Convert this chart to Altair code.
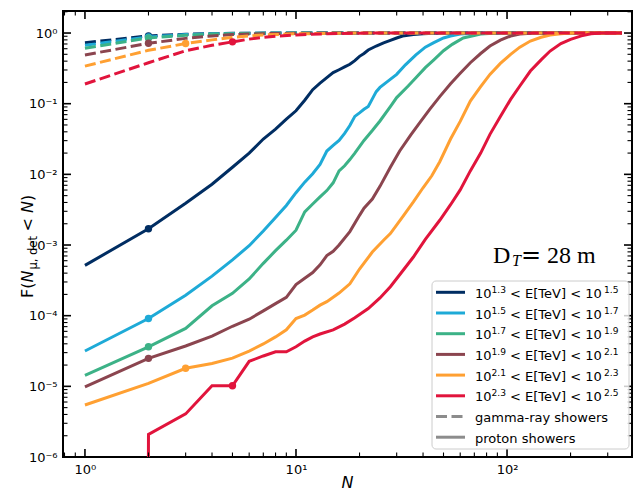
import altair as alt
import pandas as pd
import numpy as np

# ---------------- data ----------------
colors = ["#002d62", "#1eaad7", "#3cb287", "#8b454f", "#ffa032", "#e1143c"]
e_lo = ["1.3", "1.5", "1.7", "1.9", "2.1", "2.3"]
e_hi = ["1.5", "1.7", "1.9", "2.1", "2.3", "2.5"]
marker_N = [2, 2, 2, 2, 3, 5]

# proton showers (solid)
p0_N = [1, 2, 3, 4, 5, 6, 7, 8, 9, 10, 11, 12, 13, 14, 15, 16, 17, 18, 19, 20, 21, 22, 24, 26, 28, 30, 32, 36, 40, 45, 50, 60, 80, 120, 200, 350]
p0_F = [5.15e-4, 1.70e-3, 3.89e-3, 7.24e-3, 1.26e-2, 2.0e-2, 3.16e-2, 4.37e-2, 6.03e-2, 7.94e-2, 0.112, 0.158, 0.195, 0.234, 0.275, 0.302, 0.331, 0.361, 0.407, 0.468, 0.513, 0.575, 0.655, 0.724, 0.787, 0.851, 0.908, 0.955, 0.977, 0.991, 0.995, 1.0, 1.0, 1.0, 1.0, 1.0]

p1_N = [1, 2, 3, 4, 5, 6, 7, 8, 9, 10, 11, 12, 13, 14, 15, 16, 17, 18, 19, 20, 21, 22, 23, 24, 25, 27, 30, 33, 37, 41, 45, 50, 54, 60, 70, 80, 120, 200, 350]
p1_F = [3.16e-5, 9.12e-5, 1.95e-4, 3.63e-4, 6.17e-4, 9.77e-4, 1.58e-3, 2.45e-3, 3.63e-3, 5.50e-3, 7.76e-3, 1.02e-2, 1.38e-2, 2.14e-2, 2.57e-2, 3.02e-2, 3.80e-2, 4.90e-2, 6.61e-2, 7.41e-2, 8.32e-2, 9.12e-2, 0.117, 0.148, 0.170, 0.204, 0.260, 0.355, 0.490, 0.631, 0.733, 0.851, 0.908, 0.966, 0.993, 1.0, 1.0, 1.0, 1.0]

p2_N = [1, 2, 3, 4, 5, 6, 7, 8, 9, 10, 11, 12, 13, 14, 15, 16, 17, 18, 19, 21, 23, 25, 28, 30, 34, 37, 41, 45, 50, 55, 62, 75, 90, 120, 200, 350]
p2_F = [1.43e-5, 3.63e-5, 6.61e-5, 1.38e-4, 2.07e-4, 3.31e-4, 5.50e-4, 8.32e-4, 1.17e-3, 1.62e-3, 2.95e-3, 3.80e-3, 4.79e-3, 5.89e-3, 7.59e-3, 1.12e-2, 1.32e-2, 1.62e-2, 2.0e-2, 3.02e-2, 4.17e-2, 5.69e-2, 9.12e-2, 0.122, 0.178, 0.233, 0.324, 0.417, 0.562, 0.692, 0.851, 0.968, 1.0, 1.0, 1.0, 1.0]

p3_N = [1, 2, 3, 4, 5, 6, 7, 8, 9, 10, 11, 12, 13, 14, 15, 16, 18, 20, 21, 23, 25, 28, 31, 35, 39, 43, 48, 54, 60, 67, 75, 83, 93, 104, 115, 130, 150, 200, 350]
p3_F = [9.79e-6, 2.49e-5, 3.72e-5, 5.13e-5, 7.08e-5, 8.91e-5, 1.17e-4, 1.48e-4, 1.82e-4, 2.75e-4, 3.39e-4, 4.07e-4, 5.25e-4, 7.08e-4, 8.13e-4, 1.0e-3, 1.55e-3, 2.63e-3, 3.31e-3, 4.47e-3, 6.76e-3, 1.26e-2, 2.14e-2, 3.63e-2, 5.62e-2, 8.32e-2, 0.126, 0.191, 0.269, 0.380, 0.513, 0.655, 0.794, 0.908, 0.966, 0.993, 1.0, 1.0, 1.0]

p4_N = [1, 2, 3, 4, 5, 6, 7, 8, 9, 10, 11, 12, 13, 14, 15, 16, 18, 20, 23, 26, 28, 32, 36, 40, 44, 48, 54, 60, 67, 75, 83, 93, 104, 115, 129, 145, 160, 180, 200, 250, 350]
p4_F = [5.44e-6, 1.10e-5, 1.80e-5, 2.11e-5, 2.51e-5, 3.16e-5, 3.98e-5, 5.01e-5, 6.31e-5, 9.12e-5, 1.02e-4, 1.20e-4, 1.41e-4, 1.58e-4, 1.82e-4, 2.09e-4, 2.82e-4, 4.57e-4, 7.94e-4, 1.17e-3, 1.45e-3, 2.51e-3, 4.07e-3, 6.46e-3, 9.55e-3, 1.51e-2, 3.16e-2, 5.62e-2, 0.109, 0.174, 0.260, 0.372, 0.499, 0.631, 0.771, 0.871, 0.938, 0.977, 1.0, 1.0, 1.0]

p5_N = [1, 2, 3, 4, 5, 6, 7, 8, 9, 10, 11, 12, 13, 15, 17, 19, 22, 25, 28, 31, 36, 41, 48, 54, 60, 67, 75, 83, 93, 104, 115, 129, 145, 160, 180, 200, 225, 250, 280, 350]
p5_F = [0.0, 2.09e-6, 4.07e-6, 1.02e-5, 1.02e-5, 2.26e-5, 2.69e-5, 3.09e-5, 3.09e-5, 3.63e-5, 4.37e-5, 5.01e-5, 5.50e-5, 6.31e-5, 7.59e-5, 9.33e-5, 1.26e-4, 1.78e-4, 2.57e-4, 3.80e-4, 6.76e-4, 1.20e-3, 2.24e-3, 3.72e-3, 6.03e-3, 1.12e-2, 2.0e-2, 3.68e-2, 6.61e-2, 0.115, 0.178, 0.290, 0.417, 0.556, 0.708, 0.813, 0.912, 0.977, 1.0, 1.0]

# gamma-ray showers (dashed)
g0_N = [1, 2, 3, 4, 5, 6, 8, 10, 15, 350]
g0_F = [0.73, 0.91, 0.96, 0.98, 0.99, 0.995, 0.998, 1.0, 1.0, 1.0]
g1_N = [1, 2, 3, 4, 5, 7, 10, 15, 350]
g1_F = [0.67, 0.88, 0.95, 0.975, 0.985, 0.995, 1.0, 1.0, 1.0]
g2_N = [1, 2, 3, 4, 5, 7, 10, 15, 350]
g2_F = [0.61, 0.85, 0.93, 0.965, 0.98, 0.99, 0.998, 1.0, 1.0]
g3_N = [1, 2, 3, 4, 5, 7, 10, 14, 20, 350]
g3_F = [0.49, 0.715, 0.84, 0.91, 0.95, 0.98, 0.993, 0.998, 1.0, 1.0]
g4_N = [1, 2, 3, 4, 5, 6, 7, 10, 15, 20, 350]
g4_F = [0.34, 0.57, 0.71, 0.80, 0.87, 0.91, 0.94, 0.975, 0.99, 1.0, 1.0]
g5_N = [1, 2, 3, 4, 5, 6, 7, 8, 10, 13, 16, 20, 25, 350]
g5_F = [0.19, 0.38, 0.56, 0.67, 0.75, 0.82, 0.87, 0.90, 0.94, 0.97, 0.985, 0.995, 1.0, 1.0]

p_N = [p0_N, p1_N, p2_N, p3_N, p4_N, p5_N]
p_F = [p0_F, p1_F, p2_F, p3_F, p4_F, p5_F]
g_N = [g0_N, g1_N, g2_N, g3_N, g4_N, g5_N]
g_F = [g0_F, g1_F, g2_F, g3_F, g4_F, g5_F]

x_major = [1, 10, 100]
x_minor = [0.8, 0.9, 2, 3, 4, 5, 6, 7, 8, 9, 20, 30, 40, 50, 60, 70, 80, 90, 200, 300]
y_major = [1e-6, 1e-5, 1e-4, 1e-3, 1e-2, 1e-1, 1.0]
y_minor = [m * 10.0 ** e for e in range(-6, 1) for m in range(2, 10) if m * 10.0 ** e <= 2.0]

# ---------------- layout ----------------
W, H = 569, 446
XDOM = [0.787, 391]
YDOM = [1e-6, 2.05]
FONT = "DejaVu Sans"

xs = alt.Scale(type="log", domain=XDOM, nice=False)
ys = alt.Scale(type="log", domain=YDOM, nice=False)

SUP = "['\u2070','\u00b9','\u00b2','\u00b3','\u2074','\u2075','\u2076','\u2077','\u2078','\u2079']"
EXP = "round(log(datum.value)/LN10)"
LAB = "'10' + (" + EXP + " < 0 ? '\u207b' : '') + " + SUP + "[abs(" + EXP + ")]"

xaxis = alt.Axis(values=x_major, labelExpr=LAB, ticks=False, domain=False, grid=False,
                 labelFontSize=13, labelFont=FONT, labelColor="black", labelPadding=6,
                 labelFlush=False, labelOverlap=False, title=None)
yaxis = alt.Axis(values=y_major, labelExpr=LAB, ticks=False, domain=False, grid=False,
                 labelFontSize=13, labelFont=FONT, labelColor="black", labelPadding=6,
                 labelFlush=False, labelOverlap=False, title=None)


def X(f):
    return alt.X(f, type="quantitative", scale=xs, axis=xaxis)


def Y(f):
    return alt.Y(f, type="quantitative", scale=ys, axis=yaxis)


one = pd.DataFrame({"a": [0]})
layers = []

# data lines
for i in range(6):
    dg = pd.DataFrame({"N": g_N[i], "F": g_F[i]})
    Fp = np.array(p_F[i], dtype=float)
    Fp = np.where(Fp > 0, Fp, 1e-300)  # zero clipped like a log axis does
    dp = pd.DataFrame({"N": p_N[i], "F": Fp})
    layers.append(alt.Chart(dg).mark_line(color=colors[i], strokeWidth=3, strokeDash=[11, 4.5], clip=True)
                  .encode(x=X("N"), y=Y("F")))
    layers.append(alt.Chart(dp).mark_line(color=colors[i], strokeWidth=3, clip=True)
                  .encode(x=X("N"), y=Y("F")))
    m = marker_N[i]
    dm = pd.DataFrame({"N": [m, m],
                       "F": [dg.loc[dg.N == m, "F"].iloc[0], dp.loc[dp.N == m, "F"].iloc[0]]})
    layers.append(alt.Chart(dm).mark_circle(color=colors[i], size=55, opacity=1)
                  .encode(x=X("N"), y=Y("F")))

# inward ticks on all four sides
def xticks(vals, L, w):
    d = pd.DataFrame({"v": vals})
    return [alt.Chart(d).mark_rule(color="black", strokeWidth=w).encode(x=X("v"), y=alt.value(H), y2=alt.value(H - L)),
            alt.Chart(d).mark_rule(color="black", strokeWidth=w).encode(x=X("v"), y=alt.value(0), y2=alt.value(L))]


def yticks(vals, L, w):
    d = pd.DataFrame({"v": vals})
    return [alt.Chart(d).mark_rule(color="black", strokeWidth=w).encode(y=Y("v"), x=alt.value(0), x2=alt.value(L)),
            alt.Chart(d).mark_rule(color="black", strokeWidth=w).encode(y=Y("v"), x=alt.value(W), x2=alt.value(W - L))]


layers += xticks(x_major, 8, 1.6) + xticks(x_minor, 4.5, 1.1)
layers += yticks(y_major, 8, 1.6) + yticks(y_minor, 4.5, 1.1)


def txt(text, x, y, size, font=FONT, align="left", baseline="alphabetic", **kw):
    return alt.Chart(one).mark_text(text=text, fontSize=size, font=font, align=align,
                                    baseline=baseline, color="black", **kw).encode(
        x=alt.value(x), y=alt.value(y))


# legend box
LX0, LX1, LY0, LY1 = 369, 566, 270, 438
layers.append(alt.Chart(one).mark_rect(fill="white", fillOpacity=0.8, stroke="#cccccc", strokeWidth=1,
                                       cornerRadius=4).encode(
    x=alt.value(LX0), x2=alt.value(LX1), y=alt.value(LY0), y2=alt.value(LY1)))
TX = 412
for r in range(8):
    ry = 281.3 + 20.7 * r
    if r < 6:
        col, dash = colors[r], None
    else:
        col = "#8c8c8c"
        dash = [11, 4.5] if r == 6 else None
    kw = {"strokeDash": dash} if dash else {}
    layers.append(alt.Chart(one).mark_rule(color=col, strokeWidth=3, **kw).encode(
        x=alt.value(373), x2=alt.value(402), y=alt.value(ry)))
    if r < 6:
        layers.append(txt("10", TX, ry + 5.5, 13))
        layers.append(txt(e_lo[r], TX + 16.5, ry + 0.5, 9.1))
        layers.append(txt("< E[TeV] < 10", TX + 35, ry + 5.5, 13))
        layers.append(txt(e_hi[r], TX + 129, ry + 0.5, 9.1))
    else:
        layers.append(txt("gamma-ray showers" if r == 6 else "proton showers", TX, ry + 5.5, 13))

# D_T = 28 m annotation
SER = "Liberation Serif"
layers.append(txt("D", 430, 251.7, 24, font=SER))
layers.append(txt("T", 449, 254.5, 16, font=SER, fontStyle="italic"))
layers.append(txt("=", 458, 251.7, 24, font="DejaVu Serif"))
layers.append(txt("28  m", 484, 251.7, 24, font=SER))

# axis titles
layers.append(txt("N", W / 2, 476.5, 16, align="center", fontStyle="italic"))
YL_X = -30
s0 = 287
fs = 16
subfs = 11.5
parts = [("F(", fs, "normal", 0, 0.965 * fs),
         ("N", fs, "italic", 0, 0.748 * fs + 1),
         ("\u03bc, det", subfs, "normal", 3.5, 2.914 * subfs + 4.5),
         ("<", fs, "normal", 0, 1.156 * fs),
         ("N", fs, "italic", 0, 0.748 * fs),
         (")", fs, "normal", 0, 0.39 * fs)]
pos = s0
for t, sz, st, sh, wd in parts:
    layers.append(txt(t, YL_X + sh, pos, sz, angle=270, fontStyle=st))
    pos -= wd

chart = alt.layer(*layers).properties(
    width=W, height=H,
    autosize=alt.AutoSizeParams(type="none"),
    padding={"left": 63, "top": 11, "right": 1, "bottom": 35},
    background="white",
).configure_view(stroke="black", strokeWidth=2)

chart.save("out.html", embed_options={"renderer": "svg", "actions": False})
